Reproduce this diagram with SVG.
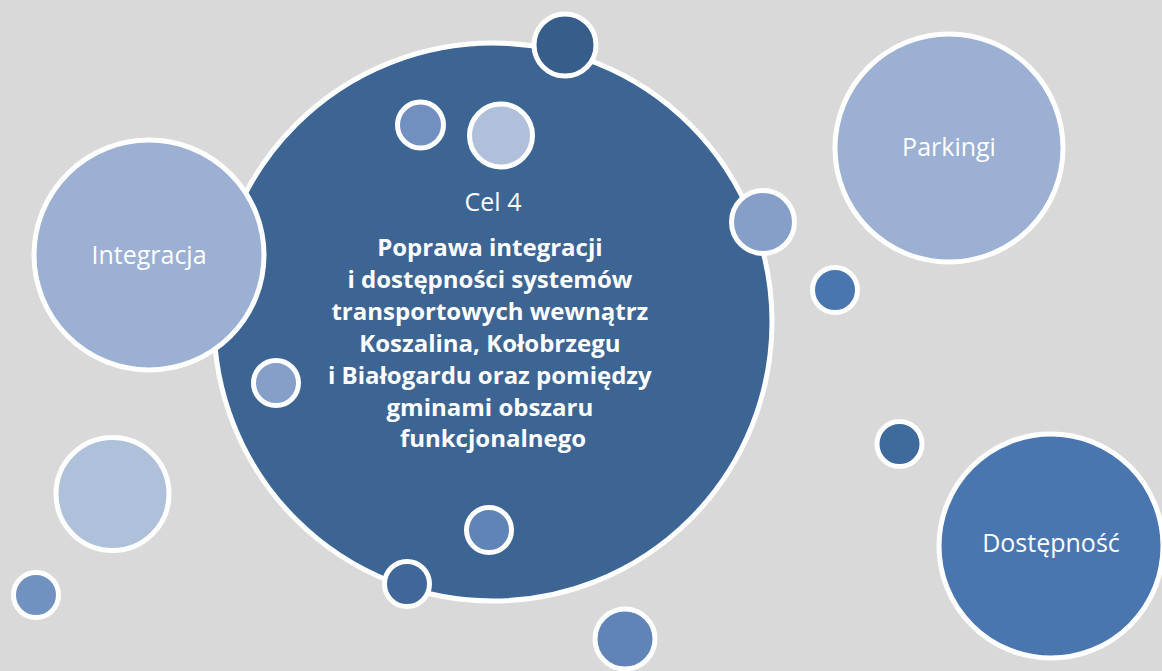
<svg xmlns="http://www.w3.org/2000/svg" width="1162" height="671" viewBox="0 0 1162 671">
<style>
.c{stroke:#FFFFFF;stroke-width:5}
.t{font-family:"Open Sans","Liberation Sans",sans-serif;fill:#FFFFFF;text-anchor:middle}
.lbl{font-size:25px}
.b{font-size:24px;font-weight:bold}
</style>
<rect width="1162" height="671" fill="#D9D9D9"/>
<g id="main">
<circle class="c" cx="493" cy="322" r="279" fill="#3D6594"/>
<text class="t lbl" x="493" y="211">Cel 4</text>
<text class="t b">
<tspan x="493" y="256">Poprawa integracji</tspan>
<tspan x="493" y="288">i dostępności systemów</tspan>
<tspan x="493" y="320">transportowych wewnątrz</tspan>
<tspan x="493" y="352">Koszalina, Kołobrzegu</tspan>
<tspan x="493" y="384">i Białogardu oraz pomiędzy</tspan>
<tspan x="493" y="416">gminami obszaru</tspan>
<tspan x="493" y="447">funkcjonalnego</tspan>
</text>
</g>
<g id="integracja">
<circle class="c" cx="149" cy="255" r="115" fill="#9BB0D2"/>
<text class="t lbl" x="149" y="264">Integracja</text>
</g>
<g id="parkingi">
<circle class="c" cx="949" cy="148" r="114" fill="#9BB0D2"/>
<text class="t lbl" x="949" y="156">Parkingi</text>
</g>
<g id="dostepnosc">
<circle class="c" cx="1051" cy="546" r="112" fill="#4A76B0"/>
<text class="t lbl" x="1051" y="552">Dostępność</text>
</g>
<g id="bubbles">
<circle class="c" cx="565" cy="45" r="31" fill="#375D8A"/>
<circle class="c" cx="420.5" cy="125" r="23" fill="#7190C0"/>
<circle class="c" cx="501" cy="135.5" r="31.5" fill="#B0C0DA"/>
<circle class="c" cx="763" cy="222" r="31.5" fill="#859FC9"/>
<circle class="c" cx="835" cy="290" r="22.5" fill="#4A76B0"/>
<circle class="c" cx="899.5" cy="444" r="22.5" fill="#3F6A9C"/>
<circle class="c" cx="276" cy="383" r="22.5" fill="#859FC9"/>
<circle class="c" cx="489" cy="530" r="22.5" fill="#6083B8"/>
<circle class="c" cx="407" cy="584" r="22.5" fill="#3F6799"/>
<circle class="c" cx="625" cy="639" r="30" fill="#6083B8"/>
<circle class="c" cx="112.5" cy="494" r="56.5" fill="#AFC0DA"/>
<circle class="c" cx="36" cy="595" r="22.5" fill="#7191C0"/>
</g>
</svg>
